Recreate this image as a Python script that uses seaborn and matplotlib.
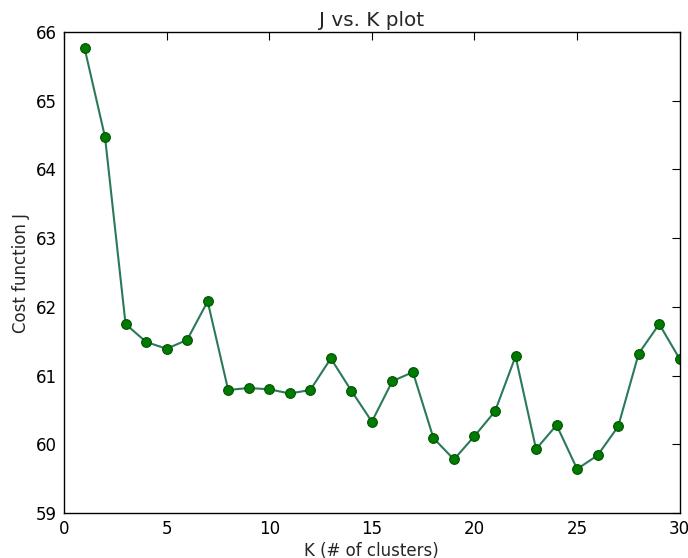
import numpy as np
import pandas as pd
import matplotlib
matplotlib.use('Agg')
import matplotlib.pyplot as plt
import seaborn as sns

# values
k_values = list(range(1, 31))
cost_j = [65.77, 64.47, 61.75, 61.49, 61.39, 61.52, 62.08, 60.79, 60.82, 60.80,
          60.74, 60.79, 61.25, 60.78, 60.33, 60.92, 61.05, 60.09, 59.78, 60.12,
          60.48, 61.28, 59.93, 60.28, 59.64, 59.84, 60.26, 61.32, 61.75, 61.24]

df = pd.DataFrame({'K': k_values, 'J': cost_j})

sns.set_style('white', {
    'xtick.direction': 'in',
    'ytick.direction': 'in',
    'axes.edgecolor': 'black',
})
plt.rcParams['font.family'] = ['DejaVu Sans']

fig = plt.figure(figsize=(6.88, 5.58), dpi=100)
ax = fig.add_axes([0.093, 0.0806, 0.895, 0.862])

sns.lineplot(data=df, x='K', y='J', ax=ax, color='#2a7a58', linewidth=1.5,
             marker='o', markersize=7, markerfacecolor='#007a00',
             markeredgecolor='#005200', markeredgewidth=0.8)

ax.set_xlim(0, 30)
ax.set_ylim(59, 66)
ax.set_xticks([0, 5, 10, 15, 20, 25, 30])
ax.set_yticks(range(59, 67))
ax.tick_params(axis='both', which='both', direction='in', length=6, width=0.8,
               top=True, right=True, labelsize=12, pad=5, colors='black')
for s in ax.spines.values():
    s.set_visible(True)
    s.set_linewidth(1.0)
    s.set_color('black')

ax.set_title('J vs. K plot', fontsize=14.4, pad=4)
ax.set_xlabel('K (# of clusters)', fontsize=12, labelpad=3)
ax.set_ylabel('Cost function J', fontsize=12, labelpad=4)

fig.savefig('out.png', dpi=100)
